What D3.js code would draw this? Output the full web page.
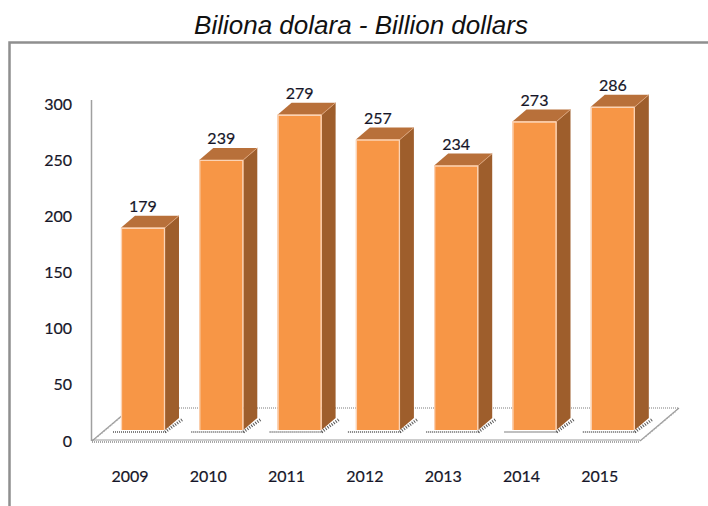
<!DOCTYPE html>
<html>
<head>
<meta charset="utf-8">
<script src="https://cdn.jsdelivr.net/npm/d3@7/dist/d3.min.js"></script>
<style>
  html, body { margin: 0; padding: 0; background: #fff; }
  svg { display: block; }
</style>
</head>
<body>
<svg id="chart" width="708" height="506"></svg>
<script>
const years = ["2009", "2010", "2011", "2012", "2013", "2014", "2015"];
const values = [179, 239, 279, 257, 234, 273, 286];
const yTicks = [0, 50, 100, 150, 200, 250, 300];
const titleText = "Biliona dolara - Billion dollars";

const svg = d3.select("#chart");

const colFront = "#F79646";
const colSide = "#9E5E2C";
const colTop = "#B8703A";
const colEdge = "#FBD3B5";
const textCol = "#161628";
const font = "Lato, 'Open Sans', sans-serif";
const textStroke = 0.2;

// Title
svg.append("text")
  .attr("x", 361).attr("y", 34)
  .attr("text-anchor", "middle")
  .attr("font-family", "'Liberation Sans', Arial, sans-serif")
  .attr("font-style", "italic")
  .attr("font-size", 26)
  .attr("fill", "#111")
  .text(titleText);

// Outer frame (extends beyond window right/bottom)
svg.append("path")
  .attr("d", "M9.5,520 L9.5,42.5 L720,42.5")
  .attr("fill", "none")
  .attr("stroke", "#8f8f8f")
  .attr("stroke-width", 2.5);

// Scales
const x = d3.scaleBand().domain(years).range([100, 655.8]).paddingInner(0.438).paddingOuter(0.268);
const yAxisScale = d3.scaleLinear().domain([0, 300]).range([441, 104]);
const yBar = d3.scaleLinear().domain([0, 300]).range([430, 91]);
const bw = x.bandwidth();
const dx = 14, dy = 12;       // bar depth
const fdx = 39, fdy = 33;     // floor depth

// Floor
const fl = 92, fr = 640, fy = 441;
const floor = svg.append("g");
floor.append("path")
  .attr("d", `M${fl},${fy} L${fr},${fy} L${fr + fdx},${fy - fdy} L${fl + fdx},${fy - fdy} Z`)
  .attr("fill", "#fff");
floor.append("line")
  .attr("x1", fl + fdx).attr("y1", fy - fdy).attr("x2", fr + fdx).attr("y2", fy - fdy)
  .attr("stroke", "#a8a8a8").attr("stroke-width", 1.5).attr("stroke-dasharray", "1,1");
[fl, fr].forEach(px => {
  floor.append("line")
    .attr("x1", px).attr("y1", fy).attr("x2", px + fdx).attr("y2", fy - fdy)
    .attr("stroke", "#9a9a9a").attr("stroke-width", 1.2);
  floor.append("line")
    .attr("x1", px + 4).attr("y1", fy - 3).attr("x2", px + fdx - 3).attr("y2", fy - fdy + 3)
    .attr("stroke", "#b0b0b0").attr("stroke-width", 1.5).attr("stroke-dasharray", "1,1.5");
});
floor.append("line")
  .attr("x1", fl).attr("y1", fy - 1).attr("x2", fr).attr("y2", fy - 1)
  .attr("stroke", "#9a9a9a").attr("stroke-width", 1);
floor.append("line")
  .attr("x1", fl).attr("y1", fy + 1).attr("x2", fr).attr("y2", fy + 1)
  .attr("stroke", "#8a8a8a").attr("stroke-width", 1.5).attr("stroke-dasharray", "1,1");

// Bar base shadows (dotted)
const shadows = svg.append("g");
years.forEach((yr) => {
  const bx = x(yr);
  const by = yBar(0);
  shadows.append("line")
    .attr("x1", bx - 8).attr("y1", by + 2).attr("x2", bx + bw + 2).attr("y2", by + 2)
    .attr("stroke", "#555").attr("stroke-width", 1.5).attr("stroke-dasharray", "1,1");
  shadows.append("path")
    .attr("d", `M${bx + bw},${by + 2} L${bx + bw + dx + 4},${by - dy + 1}`)
    .attr("stroke", "#555").attr("stroke-width", 3).attr("stroke-dasharray", "1,1.5").attr("fill", "none");
});

// Y axis
svg.append("line")
  .attr("x1", 91.5).attr("y1", 100).attr("x2", 91.5).attr("y2", 441)
  .attr("stroke", "#a0a0a0").attr("stroke-width", 1.5);
svg.append("g").selectAll("text").data(yTicks).join("text")
  .attr("x", 72).attr("y", d => yAxisScale(d))
  .attr("dy", "0.35em")
  .attr("text-anchor", "end")
  .attr("font-family", font).attr("font-size", 16)
  .attr("fill", textCol).attr("stroke", textCol).attr("stroke-width", textStroke)
  .text(d => d);

// Bars
const bars = svg.append("g").selectAll("g").data(years.map((y, i) => ({ y, v: values[i] }))).join("g");
bars.append("path")
  .attr("d", d => {
    const bx = x(d.y) + bw, t = yBar(d.v), b = yBar(0);
    return `M${bx},${t} L${bx + dx},${t - dy} L${bx + dx},${b - dy} L${bx},${b} Z`;
  })
  .attr("fill", colSide);
bars.append("path")
  .attr("d", d => {
    const bx = x(d.y), t = yBar(d.v);
    return `M${bx},${t} L${bx + dx},${t - dy} L${bx + bw + dx},${t - dy} L${bx + bw},${t} Z`;
  })
  .attr("fill", colTop);
bars.append("rect")
  .attr("x", d => x(d.y)).attr("y", d => yBar(d.v))
  .attr("width", bw).attr("height", d => yBar(0) - yBar(d.v))
  .attr("fill", colFront);
bars.append("path")
  .attr("d", d => {
    const bx = x(d.y), t = yBar(d.v), b = yBar(0);
    return `M${bx + 0.5},${b} L${bx + 0.5},${t + 0.5} L${bx + bw - 0.5},${t + 0.5} L${bx + bw - 0.5},${b}`;
  })
  .attr("fill", "none").attr("stroke", colEdge).attr("stroke-width", 1.3);
bars.append("path")
  .attr("d", d => {
    const bx = x(d.y) + bw, t = yBar(d.v);
    return `M${bx},${t} L${bx + dx},${t - dy}`;
  })
  .attr("stroke", "#D9A178").attr("stroke-width", 1).attr("fill", "none");

// Value labels
bars.append("text")
  .attr("x", d => x(d.y) + bw / 2)
  .attr("y", d => yBar(d.v) - dy - 4)
  .attr("text-anchor", "middle")
  .attr("font-family", font).attr("font-size", 16)
  .attr("fill", textCol).attr("stroke", textCol).attr("stroke-width", textStroke)
  .text(d => d.v);

// Category labels
svg.append("g").selectAll("text").data(years).join("text")
  .attr("x", d => x(d) + bw / 2 - 13)
  .attr("y", 482)
  .attr("text-anchor", "middle")
  .attr("font-family", font).attr("font-size", 16)
  .attr("fill", textCol).attr("stroke", textCol).attr("stroke-width", textStroke)
  .text(d => d);
</script>
</body>
</html>
